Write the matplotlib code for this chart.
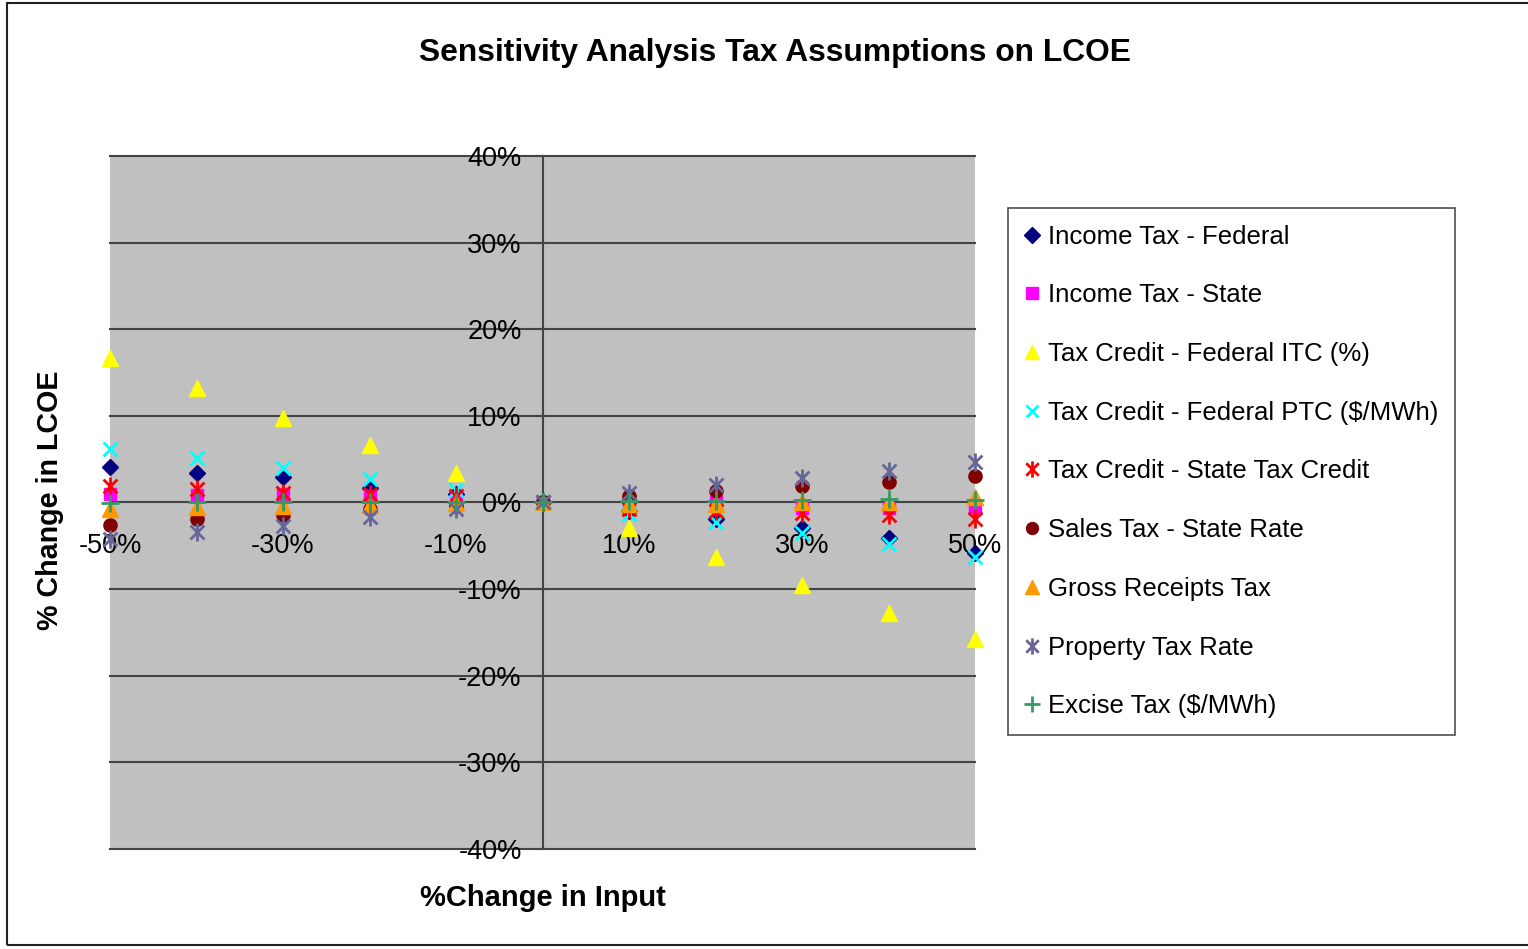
import matplotlib.pyplot as plt
from matplotlib.path import Path
from matplotlib.patches import Rectangle

plt.rcParams['font.family'] = ['Liberation Sans', 'DejaVu Sans']

# % change in input
change_input = [-50, -40, -30, -20, -10, 0, 10, 20, 30, 40, 50]

# % change in LCOE
income_fed   = [4.1, 3.4, 2.9, 1.7, 1.0, 0, -1.0, -1.9, -3.0, -4.15, -5.8]
income_state = [0.95, 0.9, 1.0, 0.8, 0.4, 0, -0.2, 0.0, -0.6, -0.6, -0.7]
itc_fed      = [16.7, 13.2, 9.8, 6.6, 3.4, 0, -3.0, -6.3, -9.5, -12.8, -15.8]
ptc_fed      = [6.2, 5.1, 4.0, 2.7, 1.5, 0, -1.3, -2.3, -3.5, -4.8, -6.3]
state_credit = [1.9, 1.6, 1.1, 1.0, 0.7, 0, -0.7, -1.0, -1.2, -1.5, -1.85]
sales_tax    = [-2.6, -1.9, -1.5, -0.8, -0.4, 0, 0.7, 1.35, 1.9, 2.4, 3.1]
gross_rcpt   = [-0.7, -0.5, -0.4, -0.3, -0.1, 0, -0.2, -0.2, 0.1, 0.0, 0.6]
property_tax = [-4.2, -3.4, -2.7, -1.7, -0.8, 0, 1.1, 2.0, 2.8, 3.65, 4.7]
excise_tax   = [-0.1, 0.0, 0.0, 0.0, 0.0, 0, 0.2, 0.2, 0.3, 0.4, 0.3]

series_names = ['Income Tax - Federal', 'Income Tax - State', 'Tax Credit - Federal ITC (%)',
                'Tax Credit - Federal PTC ($/MWh)', 'Tax Credit - State Tax Credit',
                'Sales Tax - State Rate', 'Gross Receipts Tax', 'Property Tax Rate',
                'Excise Tax ($/MWh)']

x_ticks = [-50, -30, -10, 10, 30, 50]
x_labels = ['-50%', '-30%', '-10%', '10%', '30%', '50%']
y_ticks = [-40, -30, -20, -10, 0, 10, 20, 30, 40]
y_labels = ['-40%', '-30%', '-20%', '-10%', '0%', '10%', '20%', '30%', '40%']

# excel style asterisk: an x with a vertical bar
star = Path([(-1, -1), (1, 1), (-1, 1), (1, -1), (0, -1.3), (0, 1.3)],
            [Path.MOVETO, Path.LINETO, Path.MOVETO, Path.LINETO, Path.MOVETO, Path.LINETO])

styles = [
    dict(marker='D', color='#000080', ms=8.5),
    dict(marker='s', color='#FF00FF', ms=9),
    dict(marker='^', color='#FFFF00', ms=11),
    dict(marker='x', color='#00FFFF', ms=10, mew=2),
    dict(marker=star, color='#FF0000', ms=13, mew=2),
    dict(marker='o', color='#800000', ms=9.5),
    dict(marker='^', color='#FF9900', ms=11),
    dict(marker=star, color='#666699', ms=13, mew=2),
    dict(marker='+', color='#339966', ms=13, mew=2),
]
all_series = [income_fed, income_state, itc_fed, ptc_fed, state_credit,
              sales_tax, gross_rcpt, property_tax, excise_tax]

fig = plt.figure(figsize=(15.28, 9.49), dpi=100)
fig.patches.append(Rectangle((7 / 1528, 4 / 949), 1.1, 942 / 949, transform=fig.transFigure,
                             fill=False, edgecolor='#222222', lw=1.5))

ax = fig.add_axes([110 / 1528, 1 - 849 / 949, 865 / 1528, 693 / 949])
ax.set_facecolor('#C0C0C0')
ax.set_xlim(-50, 50)
ax.set_ylim(-40, 40)

for v in y_ticks:
    ax.axhline(v, color='#444444', lw=1.5, clip_on=False, zorder=1)

for i, (vals, name, st) in enumerate(zip(all_series, series_names, styles)):
    ax.plot(change_input, vals, ls='none', label=name, clip_on=False, zorder=3 + i,
            marker=st['marker'], color=st['color'], markersize=st['ms'],
            markeredgewidth=st.get('mew', 1))

for s in ['top', 'right', 'bottom']:
    ax.spines[s].set_visible(False)
ax.spines['left'].set_position(('data', 0))
ax.spines['bottom'].set_position(('data', 0))
ax.spines['left'].set_color('#444444')
ax.spines['left'].set_linewidth(1.5)

ax.set_xticks(x_ticks)
ax.set_xticklabels(x_labels, fontsize=19.5)
ax.tick_params(axis='x', length=0, pad=22)
ax.set_yticks(y_ticks)
ax.set_yticklabels(y_labels, fontsize=19.5)
ax.tick_params(axis='y', length=6, width=1.5, color='#444444', pad=9)

fig.text(0.507, 0.944, 'Sensitivity Analysis Tax Assumptions on LCOE',
         ha='center', va='center', fontsize=22.9, fontweight='bold')
fig.text(0.0325, 0.473, '% Change in LCOE', rotation=90, ha='center', va='center',
         fontsize=20.6, fontweight='bold')
fig.text(0.355, 0.054, '%Change in Input', ha='center', va='center',
         fontsize=21, fontweight='bold')

leg = fig.legend(loc='upper left', bbox_to_anchor=(1008 / 1528, 1 - 208 / 949),
                 bbox_transform=fig.transFigure, borderaxespad=0, fontsize=18.5,
                 frameon=True, fancybox=False, edgecolor='#222222', labelspacing=1.35,
                 handlelength=0.6, handletextpad=0.3, markerscale=0.9,
                 borderpad=0.65)
leg.get_frame().set_linewidth(1.2)

fig.savefig('out.png', dpi=100)
